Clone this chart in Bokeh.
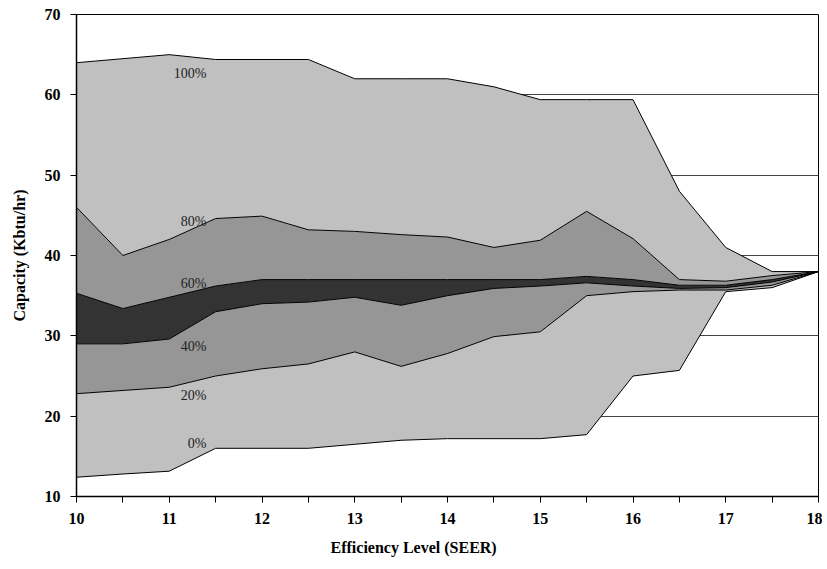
from bokeh.plotting import figure
from bokeh.models import FixedTicker, ColumnDataSource, Title
from bokeh.core.properties import value
from bokeh.embed import file_html
from bokeh.resources import INLINE

seer = [10, 10.5, 11, 11.5, 12, 12.5, 13, 13.5, 14, 14.5, 15, 15.5, 16, 16.5, 17, 17.5, 18]
p0 = [12.4, 12.8, 13.15, 16.0, 16.0, 16.0, 16.5, 17.0, 17.2, 17.2, 17.2, 17.7, 25.0, 25.7, 35.5, 36.0, 38.0]
p20 = [22.8, 23.2, 23.6, 25.0, 25.9, 26.5, 28.0, 26.2, 27.8, 29.9, 30.5, 35.0, 35.5, 35.7, 35.7, 36.3, 38.0]
p40 = [29.0, 29.0, 29.6, 33.0, 34.0, 34.2, 34.8, 33.8, 35.0, 35.9, 36.2, 36.6, 36.2, 35.9, 36.0, 36.7, 38.0]
p60 = [35.3, 33.4, 34.8, 36.2, 37.0, 37.0, 37.0, 37.0, 37.0, 37.0, 37.0, 37.4, 37.0, 36.3, 36.3, 37.0, 38.0]
p80 = [46.0, 40.0, 42.0, 44.6, 44.9, 43.2, 43.0, 42.6, 42.3, 41.0, 41.9, 45.5, 42.1, 37.0, 36.8, 37.5, 38.0]
p100 = [64.0, 64.5, 65.0, 64.4, 64.4, 64.4, 62.0, 62.0, 62.0, 61.0, 59.4, 59.4, 59.4, 48.0, 41.0, 38.0, 38.0]

labels = ["0%", "20%", "40%", "60%", "80%", "100%"]
label_x = [11.4] * 6
label_y = [16.6, 22.6, 28.7, 36.5, 44.2, 62.6]

x_ticks = [10, 11, 12, 13, 14, 15, 16, 17, 18]
x_minor = [10.5, 11.5, 12.5, 13.5, 14.5, 15.5, 16.5, 17.5]
y_ticks = [10, 20, 30, 40, 50, 60, 70]

LIGHT = "#C0C0C0"
MID = "#969696"
DARK = "#333333"
FONT = "Liberation Serif"

p = figure(width=822, height=565, x_range=(10, 18), y_range=(10, 70),
           output_backend="svg", toolbar_location=None,
           min_border_left=76, min_border_right=4, min_border_top=14, min_border_bottom=64)

src = ColumnDataSource(dict(x=seer, p0=p0, p20=p20, p40=p40, p60=p60, p80=p80, p100=p100))
bands = [("p0", "p20", LIGHT), ("p20", "p40", MID), ("p40", "p60", DARK),
         ("p60", "p80", MID), ("p80", "p100", LIGHT)]
for lo, hi, c in bands:
    p.varea(x="x", y1=lo, y2=hi, source=src, fill_color=c, fill_alpha=1.0)
for col in ["p0", "p20", "p40", "p60", "p80", "p100"]:
    p.line(x="x", y=col, source=src, line_color="black", line_width=1)

p.text(x=label_x, y=label_y, text=labels, text_align="right", text_baseline="middle",
       text_font=value(FONT), text_font_size="14px", text_color="#222222")

p.xaxis.ticker = FixedTicker(ticks=x_ticks, minor_ticks=x_minor)
p.yaxis.ticker = FixedTicker(ticks=y_ticks, minor_ticks=[])
p.xgrid.visible = False
p.ygrid.grid_line_color = "#444444"
p.ygrid.grid_line_width = 1

for ax in (p.xaxis, p.yaxis):
    ax.axis_line_color = "black"
    ax.axis_line_width = 1.5
    ax.major_tick_line_color = "black"
    ax.minor_tick_line_color = "black"
    ax.major_tick_in = 0
    ax.major_tick_out = 6
    ax.minor_tick_in = 0
    ax.minor_tick_out = 6
    ax.major_label_text_font = FONT
    ax.major_label_text_font_style = "bold"
    ax.major_label_text_font_size = "16px"
    ax.major_label_text_color = "black"
    ax.axis_label_text_font = FONT
    ax.axis_label_text_font_style = "bold"
    ax.axis_label_text_font_size = "16px"
    ax.axis_label_text_color = "black"

p.yaxis.axis_label = "Capacity (Kbtu/hr)"
p.yaxis.minor_tick_out = 0
p.xaxis.major_label_standoff = 10
p.yaxis.major_label_standoff = 10
p.yaxis.axis_label_standoff = 14

xtitle = Title(text="Efficiency Level (SEER)", align="left", offset=254,
               text_font=FONT, text_font_style="bold", text_font_size="16px",
               text_color="black", standoff=20)
p.add_layout(xtitle, "below")

p.outline_line_color = "black"
p.outline_line_width = 1
p.background_fill_color = "white"
p.border_fill_color = "white"

open("out.html", "w").write(file_html(p, INLINE))
